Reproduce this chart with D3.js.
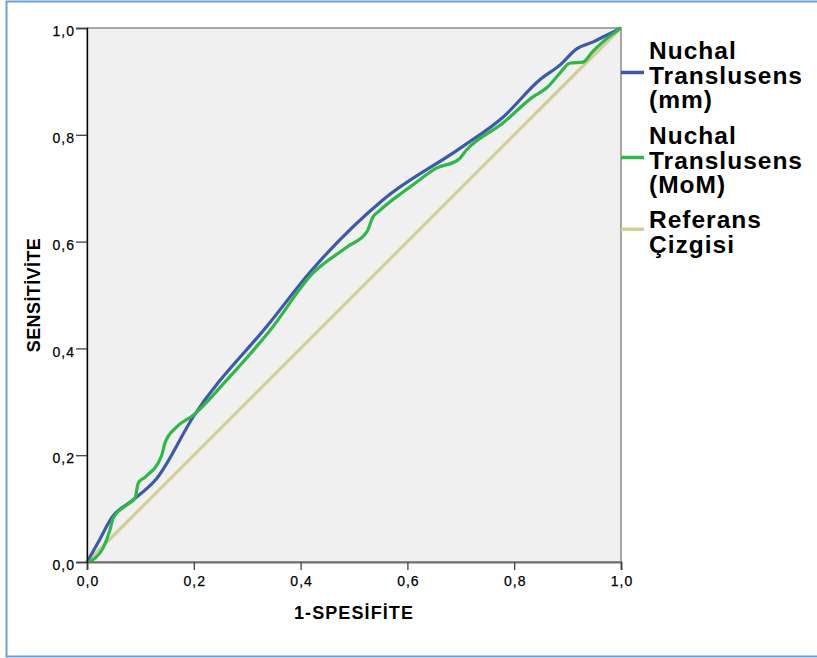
<!DOCTYPE html>
<html>
<head>
<meta charset="utf-8">
<script src="https://cdn.jsdelivr.net/npm/d3@7"></script>
<style>
  body { margin: 0; background: #fff; }
  svg { display: block; font-family: "Liberation Sans", Arial, sans-serif; }
  .tick text { font-size: 14px; fill: #000; stroke: #000; stroke-width: 0.25px; letter-spacing: 1px; }
</style>
</head>
<body>
<svg id="chart"></svg>
<script>
// ROC curve points (1-specificity, sensitivity)
const mmFpr = [0, 0.02, 0.047, 0.086, 0.131, 0.199, 0.343, 0.418, 0.554, 0.699, 0.779, 0.848, 0.886, 0.917, 0.948, 0.97, 1];
const mmTpr = [0, 0.035, 0.084, 0.116, 0.157, 0.272, 0.449, 0.543, 0.678, 0.775, 0.833, 0.903, 0.931, 0.961, 0.974, 0.985, 1];

const momFpr = [0, 0.015, 0.03, 0.043, 0.049, 0.075, 0.09, 0.096, 0.109, 0.14, 0.146, 0.168, 0.199, 0.262, 0.343, 0.423, 0.487, 0.524, 0.535, 0.549, 0.592, 0.61, 0.655, 0.695, 0.711, 0.779, 0.835, 0.861, 0.886, 0.904, 0.929, 0.946, 0.966, 1];
const momTpr = [0, 0.007, 0.026, 0.06, 0.082, 0.107, 0.12, 0.148, 0.159, 0.2, 0.223, 0.253, 0.275, 0.341, 0.434, 0.541, 0.59, 0.618, 0.645, 0.659, 0.693, 0.706, 0.738, 0.753, 0.772, 0.822, 0.871, 0.888, 0.916, 0.934, 0.936, 0.955, 0.974, 1];

const refFpr = [0, 1];
const refTpr = [0, 1];

const ticks = [0, 0.2, 0.4, 0.6, 0.8, 1.0];

const series = [
  { name: ["Nuchal", "Translusens", "(mm)"], color: "#3e58ac", fpr: mmFpr, tpr: mmTpr },
  { name: ["Nuchal", "Translusens", "(MoM)"], color: "#2eb848", fpr: momFpr, tpr: momTpr },
  { name: ["Referans", "Çizgisi"], color: "#d3ce97", fpr: refFpr, tpr: refTpr },
];

const width = 817;
const height = 658;
const plot = { left: 87, right: 621, top: 28, bottom: 562 };

const svg = d3.select("#chart").attr("width", width).attr("height", height);

// outer frame
svg.append("rect")
  .attr("x", 6.5).attr("y", 1.5)
  .attr("width", 830).attr("height", 655)
  .attr("fill", "none")
  .attr("stroke", "#6d9fdb")
  .attr("stroke-width", 2);

const x = d3.scaleLinear().domain([0, 1]).range([plot.left, plot.right]);
const y = d3.scaleLinear().domain([0, 1]).range([plot.bottom, plot.top]);

const fmt = (d) => d3.format(".1f")(d).replace(".", ",");

svg.append("rect")
  .attr("x", plot.left).attr("y", plot.top)
  .attr("width", plot.right - plot.left).attr("height", plot.bottom - plot.top)
  .attr("fill", "#f0f0f0")
  .attr("stroke", "#8a8a8a")
  .attr("stroke-width", 1.5);

// curves
const line = d3.line()
  .x((d) => x(d[0]))
  .y((d) => y(d[1]))
  .curve(d3.curveMonotoneX);

const curves = svg.append("g");
[series[2], series[0], series[1]].forEach((s) => {
  curves.append("path")
    .datum(s.fpr.map((f, i) => [f, s.tpr[i]]))
    .attr("d", line)
    .attr("fill", "none")
    .attr("stroke", s.color)
    .attr("stroke-width", 3.2)
    .attr("stroke-linejoin", "round");
});

// axes
const xAxis = svg.append("g")
  .attr("transform", `translate(0,${plot.bottom})`)
  .call(d3.axisBottom(x).tickValues(ticks).tickFormat(fmt).tickSize(8).tickPadding(6));
xAxis.select(".domain").attr("stroke", "#707070").attr("stroke-width", 2);
xAxis.selectAll(".tick line").attr("stroke", "#404040").attr("stroke-width", 1.3);
xAxis.selectAll(".tick text").attr("dx", "0.5px");

const yAxis = svg.append("g")
  .attr("transform", `translate(${plot.left},0)`)
  .call(d3.axisLeft(y).tickValues(ticks).tickFormat(fmt).tickSize(11).tickPadding(1));
yAxis.select(".domain").attr("stroke", "#000").attr("stroke-width", 1.3);
yAxis.selectAll(".tick line").attr("stroke", "#404040").attr("stroke-width", 1.3);
yAxis.selectAll(".tick text").attr("dy", "0.55em");

// axis titles
svg.append("text")
  .attr("x", 354)
  .attr("y", 619)
  .attr("text-anchor", "middle")
  .attr("font-size", 18)
  .attr("font-weight", "bold")
  .attr("letter-spacing", 1.1)
  .text("1-SPESİFİTE");

svg.append("text")
  .attr("transform", `translate(40,${(plot.top + plot.bottom) / 2}) rotate(-90)`)
  .attr("text-anchor", "middle")
  .attr("font-size", 18)
  .attr("font-weight", "bold")
  .attr("letter-spacing", 0.4)
  .text("SENSİTİVİTE");

// legend
const legendTops = [59, 144, 228];
const lineGap = 24.5;
const legend = svg.append("g");
series.forEach((s, i) => {
  const base = legendTops[i];
  const mid = base + (lineGap * (s.name.length - 1)) / 2 - 11;
  legend.append("line")
    .attr("x1", plot.right).attr("x2", 644)
    .attr("y1", mid).attr("y2", mid)
    .attr("stroke", s.color)
    .attr("stroke-width", 3.5);
  s.name.forEach((t, j) => {
    legend.append("text")
      .attr("x", 649)
      .attr("y", base + j * lineGap)
      .attr("font-size", 24.5)
      .attr("font-weight", "bold")
      .attr("letter-spacing", 1)
      .text(t);
  });
});
</script>
</body>
</html>
